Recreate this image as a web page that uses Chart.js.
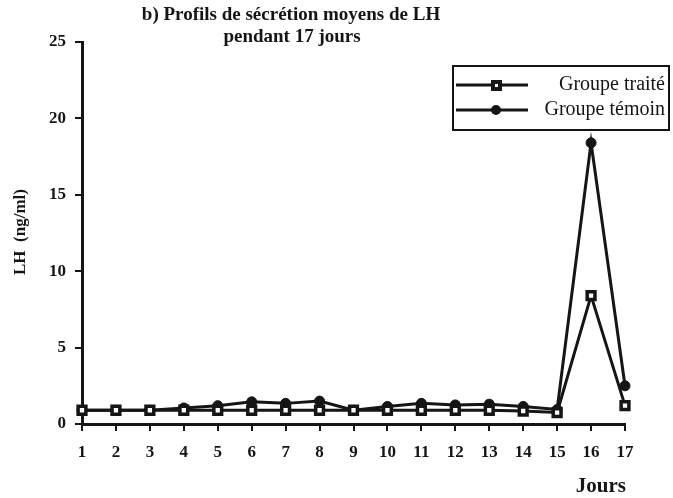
<!DOCTYPE html>
<html>
<head>
<meta charset="utf-8">
<script src="https://cdn.jsdelivr.net/npm/chart.js@4.4.0/dist/chart.umd.min.js"></script>
<style>
  html, body { margin: 0; padding: 0; background: #fff; }
  #wrap { width: 673px; height: 498px; position: relative; }
</style>
</head>
<body>
<div id="wrap"><canvas id="graf"></canvas></div>
<script>
// données
const jours = ['1','2','3','4','5','6','7','8','9','10','11','12','13','14','15','16','17'];
const groupeTraite = [0.9, 0.9, 0.9, 0.9, 0.9, 0.9, 0.9, 0.9, 0.9, 0.9, 0.9, 0.9, 0.9, 0.85, 0.75, 8.4, 1.2];
const groupeTemoin = [0.9, 0.9, 0.9, 1.05, 1.2, 1.45, 1.35, 1.5, 0.9, 1.15, 1.35, 1.25, 1.3, 1.15, 0.95, 18.4, 2.5];
const nomsSeries = ['Groupe traité', 'Groupe témoin'];
const titre = ['b) Profils de sécrétion moyens de LH', 'pendant 17 jours'];

const encre = '#151515';
const serif = '"Liberation Serif", "DejaVu Serif", serif';

// Titre, titres des axes et légende encadrée
const textesPlugin = {
  id: 'textes',
  afterDraw(chart) {
    const { ctx, chartArea } = chart;
    ctx.save();
    ctx.fillStyle = encre;
    ctx.textAlign = 'center';
    ctx.textBaseline = 'middle';

    ctx.font = 'bold 19px ' + serif;
    ctx.fillText(titre[0], 291, 15);
    ctx.fillText(titre[1], 292, 37);

    // axe Y
    ctx.font = 'bold 17px ' + serif;
    ctx.save();
    ctx.translate(21, 232);
    ctx.rotate(-Math.PI / 2);
    ctx.fillText('LH  (ng/ml)', 0, 0);
    ctx.restore();

    // axe X
    ctx.textAlign = 'right';
    ctx.font = 'bold 21px ' + serif;
    ctx.fillText('Jours', chartArea.right + 1, 487);

    // légende
    ctx.strokeStyle = encre;
    ctx.lineWidth = 2;
    ctx.strokeRect(453, 66, 216, 64);
    const lignes = [85, 110];
    lignes.forEach((y, i) => {
      ctx.lineWidth = 3;
      ctx.beginPath();
      ctx.moveTo(456, y);
      ctx.lineTo(528, y);
      ctx.stroke();
      ctx.fillStyle = encre;
      if (i === 0) {
        ctx.fillRect(491, y - 5, 11, 11);
        ctx.fillStyle = '#fff';
        ctx.fillRect(495, y - 1, 3, 3);
      } else {
        ctx.beginPath();
        ctx.arc(496, y, 5, 0, Math.PI * 2);
        ctx.fill();
      }
      ctx.fillStyle = encre;
      ctx.font = '20px ' + serif;
      ctx.textAlign = 'right';
      ctx.fillText(nomsSeries[i], 665, y);
    });
    ctx.restore();
  }
};

Chart.register(textesPlugin);

new Chart(document.getElementById('graf'), {
  type: 'line',
  data: {
    labels: jours,
    datasets: [
      {
        label: nomsSeries[0],
        data: groupeTraite,
        borderColor: encre,
        borderWidth: 3,
        pointStyle: 'rect',
        pointRadius: 5.5,
        pointBackgroundColor: '#fff',
        pointBorderColor: encre,
        pointBorderWidth: 3.5,
        tension: 0
      },
      {
        label: nomsSeries[1],
        data: groupeTemoin,
        borderColor: encre,
        borderWidth: 3,
        pointStyle: 'circle',
        pointRadius: 5,
        pointBackgroundColor: encre,
        pointBorderColor: encre,
        pointBorderWidth: 1,
        tension: 0
      }
    ]
  },
  options: {
    responsive: true,
    maintainAspectRatio: false,
    animation: false,
    layout: { padding: { top: 42, right: 48, left: 0, bottom: 0 } },
    plugins: {
      legend: { display: false },
      tooltip: { enabled: false },
      title: { display: false }
    },
    scales: {
      x: {
        offset: false,
        afterFit(scale) { scale.height = 74; },
        grid: {
          drawOnChartArea: false,
          drawTicks: true,
          tickLength: 7,
          color: encre,
          lineWidth: 2
        },
        border: { display: true, color: encre, width: 3 },
        ticks: {
          color: encre,
          padding: 11,
          maxRotation: 0,
          autoSkip: false,
          font: { family: serif, size: 17, weight: 'bold' }
        }
      },
      y: {
        min: 0,
        max: 25,
        afterFit(scale) { scale.width = 82; },
        grid: {
          drawOnChartArea: false,
          drawTicks: true,
          tickLength: 7,
          color: encre,
          lineWidth: 2
        },
        border: { display: true, color: encre, width: 3 },
        ticks: {
          stepSize: 5,
          color: encre,
          padding: 9,
          font: { family: serif, size: 17, weight: 'bold' }
        }
      }
    }
  }
});
</script>
</body>
</html>
